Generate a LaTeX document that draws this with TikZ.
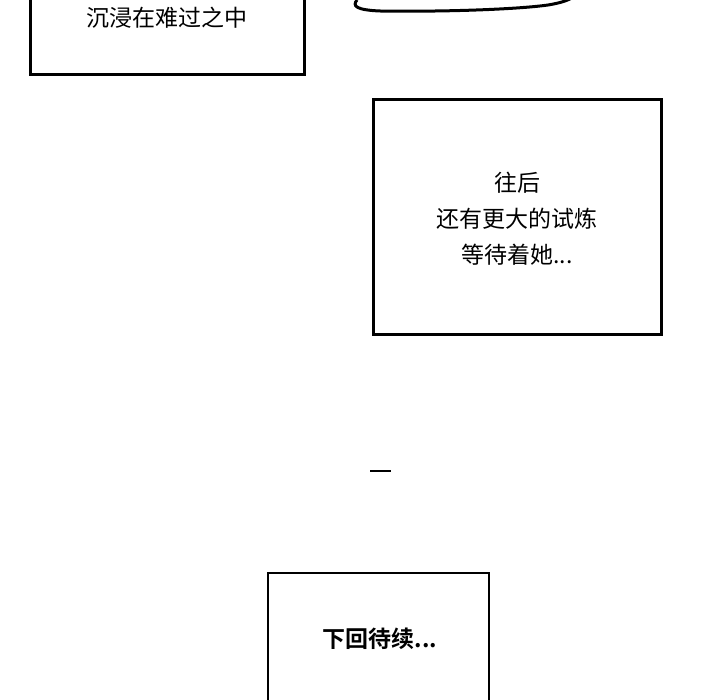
\documentclass[tikz,border=0pt]{standalone}
\usepackage{fontspec}
\newfontfamily\cjk{Noto Sans CJK SC}
\newfontfamily\cjkb{Noto Sans CJK SC Bold}
\begin{document}
\begin{tikzpicture}[x=1pt,y=-1pt,
 panel/.style={draw,line width=3pt},
 txt/.style={font=\cjk\fontsize{23}{36}\selectfont,align=center}]
\useasboundingbox[fill=white] (0,0) rectangle (720,700);
\begin{scope}
\clip (0,0) rectangle (720,700);
\draw[panel] (30,-10) rectangle (304,75);
\draw[panel] (373,100) rectangle (661,335);
\draw[panel,line width=2pt] (268,573) rectangle (489,710);
\draw[line width=3pt] (357,0) .. controls (352,6) and (356,10) .. (380,11) .. controls (450,12) and (520,9) .. (548,5) .. controls (560,3) and (566,1) .. (572,-2);
\end{scope}
\node[txt] (a) at (167,18) {沉浸在难过之中};
\node[txt] (b) at (517,219) {往后\\还有更大的试炼\\等待着她...};
\draw[line width=2pt] (370,471) -- (391,471);
\node[font=\cjkb\fontsize{23}{28}\selectfont] (c) at (380,639) {下回待续...};
\end{tikzpicture}
\end{document}
